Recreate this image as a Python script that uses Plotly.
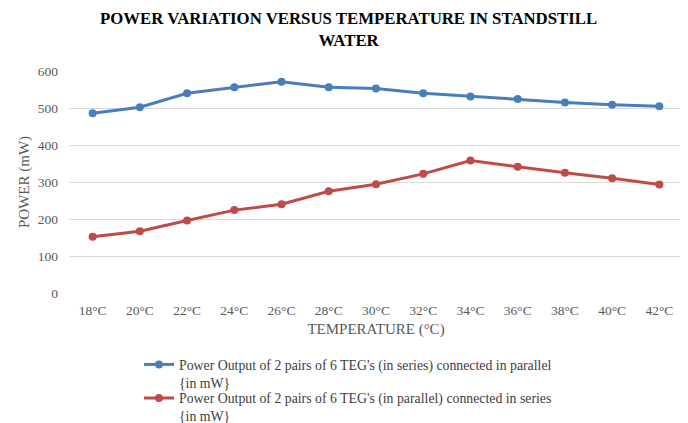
import plotly.graph_objects as go

categories = ["18°C", "20°C", "22°C", "24°C", "26°C", "28°C", "30°C",
              "32°C", "34°C", "36°C", "38°C", "40°C", "42°C"]
series_parallel = [486, 502, 540, 556, 571, 556, 553, 540, 531, 524, 515, 509, 505]
series_series = [152, 167, 196, 224, 240, 275, 294, 322, 358, 341, 325, 310, 293]
name_a = "Power Output of 2 pairs of 6 TEG's (in series) connected in parallel<br>{in mW}"
name_b = "Power Output of 2 pairs of 6 TEG's (in parallel) connected in series<br>{in mW}"
y_ticks = [0, 100, 200, 300, 400, 500, 600]
title_text = "<b>POWER VARIATION VERSUS TEMPERATURE IN STANDSTILL<br>WATER</b>"

FONT = "Liberation Serif, Times New Roman, serif"
GRAY = "#595959"
BLUE = "#4A7EBB"
RED = "#BE4B48"

fig = go.Figure()
fig.add_trace(go.Scatter(x=categories, y=series_parallel, name=name_a,
                         mode="lines+markers", legend="legend",
                         line=dict(color=BLUE, width=3),
                         marker=dict(size=8, color=BLUE)))
fig.add_trace(go.Scatter(x=categories, y=series_series, name=name_b,
                         mode="lines+markers", legend="legend2",
                         line=dict(color=RED, width=3),
                         marker=dict(size=8, color=RED)))

fig.add_annotation(text=title_text, xref="paper", yref="paper",
                   x=0.456, y=1.29, xanchor="center", yanchor="top",
                   showarrow=False, align="center",
                   font=dict(family=FONT, size=16.8, color="black"))

legend_common = dict(orientation="v", xanchor="left", yanchor="top", valign="top",
                     font=dict(family=FONT, size=13.8, color="#404040"),
                     itemwidth=30, bgcolor="rgba(0,0,0,0)")

fig.update_layout(
    width=680, height=415,
    margin=dict(l=61, r=5, t=62.7, b=130.3, autoexpand=False),
    paper_bgcolor="white", plot_bgcolor="white",
    font=dict(family=FONT, color=GRAY, size=13),
    xaxis=dict(type="category", range=[-0.5, 12.5], showgrid=False, showline=False,
               zeroline=False, ticks="", automargin=False, ticklabelstandoff=7,
               tickfont=dict(size=13.5, color=GRAY),
               title=dict(text="TEMPERATURE (°C)", font=dict(size=15, color=GRAY), standoff=6)),
    yaxis=dict(range=[0, 600], tickvals=y_ticks, showgrid=True, gridcolor="#D9D9D9",
               gridwidth=1, zeroline=False, showline=False, ticks="", automargin=False,
               tickfont=dict(size=13.5, color=GRAY), ticklabelstandoff=10,
               title=dict(text="POWER (mW)", font=dict(size=15, color=GRAY), standoff=4)),
    showlegend=True,
    legend=dict(x=0.114, y=-0.252, **legend_common),
    legend2=dict(x=0.114, y=-0.403, **legend_common),
)

fig.write_html("out.html")
